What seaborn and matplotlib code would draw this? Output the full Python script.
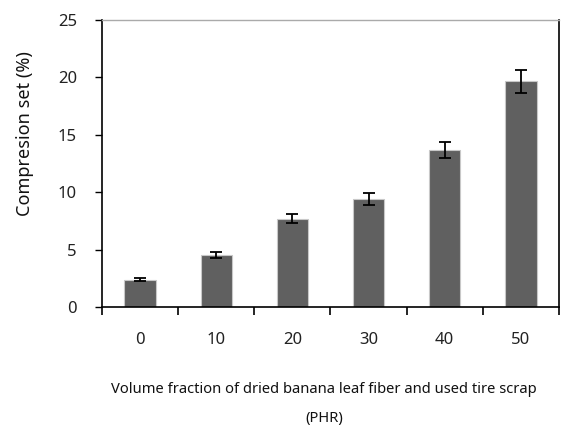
import matplotlib
matplotlib.use("Agg")
import matplotlib.pyplot as plt
import seaborn as sns
import pandas as pd
import numpy as np

categories = ["0", "10", "20", "30", "40", "50"]
compression_set = [2.38, 4.5, 7.68, 9.4, 13.68, 19.65]
error = [0.15, 0.25, 0.4, 0.5, 0.7, 1.0]

sns.set_theme(style="white")
plt.rcParams['font.family'] = ['Noto Sans', 'DejaVu Sans']

df = pd.DataFrame({"phr": categories, "cs": compression_set})

fig = plt.figure(figsize=(5.61, 4.26), dpi=100)
ax = fig.add_axes([102/561, 1-307/426, (559-102)/561, (307-20)/426])

sns.barplot(data=df, x="phr", y="cs", color="#606060", saturation=1,
            width=0.41, edgecolor="#c8c8c8", linewidth=0.8, ax=ax)
ax.errorbar(range(len(categories)), compression_set, yerr=error, fmt="none",
            ecolor="black", elinewidth=1.3, capsize=4.3, capthick=1.3)

ax.set_ylim(0, 25)
ax.set_xlim(-0.5, 5.5)
ax.set_yticks([0, 5, 10, 15, 20, 25])
ax.set_xticks(range(len(categories)))
ax.set_xticklabels(categories)
ax.set_xticks(np.arange(-0.5, 6, 1.0), minor=True)
ax.tick_params(axis="x", which="major", length=0, pad=18, labelsize=12)
ax.tick_params(axis="x", which="minor", length=5.5, width=1.2, direction="out", color="black", bottom=True)
ax.tick_params(axis="y", which="major", length=5, width=1.0, direction="out", left=True,
               pad=13, labelsize=12, color="black")
for lab in ax.get_yticklabels() + ax.get_xticklabels():
    lab.set_color("#222222")

for s in ["left", "bottom", "right"]:
    ax.spines[s].set_color("black")
    ax.spines[s].set_linewidth(1.2)
ax.spines["top"].set_color("#aaaaaa")
ax.spines["top"].set_linewidth(1.0)

ax.set_ylabel("Compresion set (%)", fontsize=13, color="#111111")
ax.yaxis.set_label_coords(-(102-25)/457, (307-134)/287)
ax.yaxis.label.set_verticalalignment("center")
ax.set_xlabel("Volume fraction of dried banana leaf fiber and used tire scrap\n(PHR)",
              fontsize=10.6, linespacing=2.25, color="#111111")
ax.xaxis.set_label_coords((324-102)/457, -(382-307)/287)

fig.savefig("out.png", dpi=100)
